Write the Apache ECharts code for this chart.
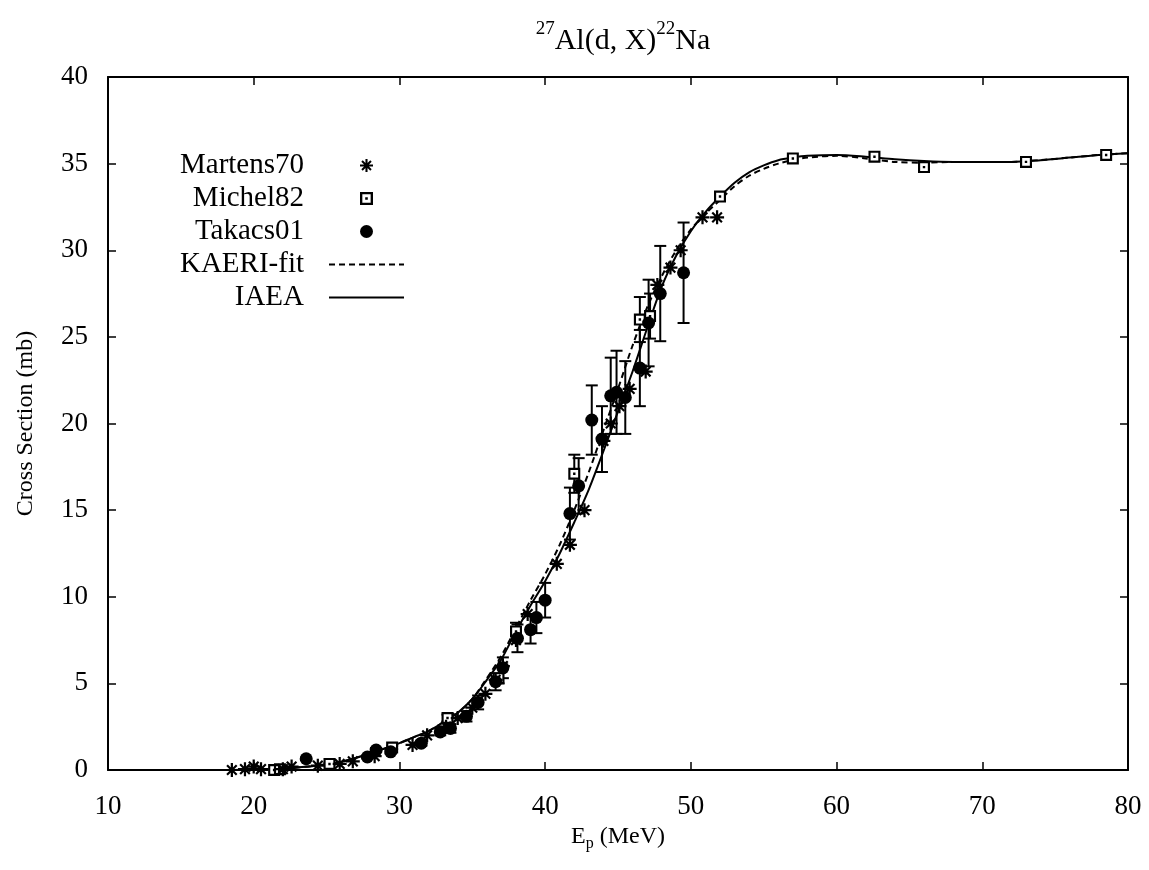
<!DOCTYPE html>
<html>
<head>
<meta charset="utf-8">
<script src="https://cdn.jsdelivr.net/npm/echarts@6/dist/echarts.min.js"></script>
<style>
  html, body { margin: 0; padding: 0; background: #fff; }
  #chart { width: 1149px; height: 870px; }
</style>
</head>
<body>
<div id="chart"></div>
<script>
// Martens70 measurements: [energy MeV, cross section mb]
const martens70 = [
  [18.5, 0.0], [19.4, 0.05], [20.0, 0.2], [20.5, 0.05], [22.0, 0.05], [22.6, 0.2],
  [24.4, 0.25], [25.9, 0.35], [26.8, 0.5], [28.3, 0.8], [30.9, 1.45], [31.9, 2.0],
  [33.2, 2.5], [34.0, 3.0], [35.0, 3.6], [35.9, 4.4], [36.6, 5.2], [37.1, 6.0],
  [38.0, 7.5], [38.8, 9.0], [40.8, 11.9], [41.7, 13.0], [42.7, 15.0], [44.0, 19.0],
  [44.5, 20.0], [45.1, 21.0], [45.8, 22.0], [46.9, 23.0], [47.7, 28.0], [48.6, 29.0],
  [49.3, 30.0], [50.8, 31.9], [51.8, 31.9]
];

// Michel82 measurements: [energy, cross section, uncertainty]
const michel82 = [
  [21.4, 0.0, 0.0], [21.8, 0.05, 0.0], [25.2, 0.35, 0.05], [29.5, 1.3, 0.1],
  [33.3, 3.0, 0.2], [36.8, 5.3, 0.3], [38.0, 8.0, 0.5], [42.0, 17.1, 1.1],
  [46.5, 26.0, 1.3], [47.2, 26.2, 1.3], [52.0, 33.1, 0.0], [57.0, 35.3, 0.0],
  [62.6, 35.4, 0.0], [66.0, 34.8, 0.0], [73.0, 35.1, 0.0], [78.5, 35.5, 0.0]
];

// Takacs01 measurements: [energy, cross section, uncertainty]
const takacs01 = [
  [23.6, 0.65, 0.07], [27.8, 0.75, 0.08], [28.4, 1.15, 0.12], [29.4, 1.05, 0.1],
  [31.5, 1.55, 0.15], [32.8, 2.2, 0.2], [33.5, 2.4, 0.25], [34.6, 3.1, 0.3],
  [35.4, 3.9, 0.4], [36.6, 5.1, 0.5], [37.1, 5.9, 0.6], [38.1, 7.6, 0.8],
  [39.0, 8.1, 0.8], [39.4, 8.8, 0.9], [40.0, 9.8, 1.0], [41.7, 14.8, 1.5],
  [42.3, 16.4, 1.6], [43.2, 20.2, 2.0], [43.9, 19.1, 1.9], [44.5, 21.6, 2.2],
  [44.9, 21.8, 2.4], [45.5, 21.5, 2.1], [46.5, 23.2, 2.2], [47.1, 25.8, 2.5],
  [47.9, 27.5, 2.75], [49.5, 28.7, 2.9]
];

// Evaluated curves on a common energy grid
const curveEnergy = [
  18, 20, 22, 23, 24, 25, 26, 27, 28, 29,
  30, 31, 32, 33, 34, 35, 36, 37, 38, 39,
  40, 41, 42, 43, 44, 45, 46, 47, 48, 49,
  50, 51, 52, 53, 54, 55, 56, 57, 58,
  60, 62, 64, 66, 68, 70, 72, 74, 76, 78, 80
];
const kaeriFit = [
  0, 0.02, 0.08, 0.15, 0.22, 0.33, 0.47, 0.7, 0.95, 1.25,
  1.55, 1.9, 2.25, 2.75, 3.3, 4.1, 5.3, 6.6, 8.2, 9.8,
  11.3, 13.0, 15.0, 17.2, 19.6, 22.0, 24.5, 26.7, 28.5, 30.0,
  31.2, 32.1, 32.9, 33.7, 34.3, 34.7, 35.0, 35.2, 35.35,
  35.45, 35.3, 35.1, 35.05, 35.1, 35.1, 35.1, 35.2, 35.35, 35.5, 35.6
];
const iaea = [
  0, 0.02, 0.08, 0.15, 0.22, 0.33, 0.47, 0.7, 0.95, 1.25,
  1.55, 1.9, 2.25, 2.75, 3.3, 4.1, 5.2, 6.4, 8.0, 9.5,
  10.9, 12.5, 14.3, 16.2, 18.4, 20.7, 23.0, 25.5, 27.9, 29.7,
  31.1, 32.2, 33.1, 33.9, 34.5, 34.9, 35.2, 35.35, 35.45,
  35.5, 35.4, 35.25, 35.15, 35.1, 35.1, 35.1, 35.2, 35.35, 35.5, 35.6
];

const xTicks = { min: 10, max: 80, step: 10 };
const yTicks = { min: 0, max: 40, step: 5 };

const FONT = 'Liberation Serif';
const INK = '#000';

// eight-armed asterisk marker
const ASTERISK = 'path://M0,4.2 L10,4.2 L10,5.8 L0,5.8 Z M4.2,0 L5.8,0 L5.8,10 L4.2,10 Z ' +
  'M1.0,2.1 L2.1,1.0 L9.0,7.9 L7.9,9.0 Z M7.9,1.0 L9.0,2.1 L2.1,9.0 L1.0,7.9 Z';
// open square with a centre dot (outer ring, hole, dot)
const DOT_SQUARE = 'path://M0,0 L10,0 L10,10 L0,10 Z M1.8,1.8 L1.8,8.2 L8.2,8.2 L8.2,1.8 Z ' +
  'M4,4 L6,4 L6,6 L4,6 Z';

function errorBars(rows) {
  return rows.filter(r => r[2] > 0).map(r => [r[0], r[1], r[1] - r[2], r[1] + r[2]]);
}

function renderErr(params, api) {
  const x = api.value(0);
  const top = api.coord([x, api.value(3)]);
  const bot = api.coord([x, api.value(2)]);
  const w = 6;
  const style = { stroke: INK, lineWidth: 2 };
  return {
    type: 'group',
    children: [
      { type: 'line', shape: { x1: top[0], y1: top[1], x2: bot[0], y2: bot[1] }, style },
      { type: 'line', shape: { x1: top[0] - w, y1: top[1], x2: top[0] + w, y2: top[1] }, style },
      { type: 'line', shape: { x1: bot[0] - w, y1: bot[1], x2: bot[0] + w, y2: bot[1] }, style }
    ]
  };
}

const axisCommon = {
  axisLine: { show: true, onZero: false, lineStyle: { color: INK, width: 2 } },
  axisTick: { show: true, inside: true, length: 8, lineStyle: { color: INK, width: 1.5 } },
  splitLine: { show: false }
};

const chart = echarts.init(document.getElementById('chart'), null, { renderer: 'canvas' });

chart.setOption({
  backgroundColor: '#fff',
  animation: false,
  title: {
    text: '{sup|27}{m|Al(d, X)}{sup|22}{m|Na}',
    left: 618,
    textAlign: 'center',
    top: 15,
    textStyle: {
      fontWeight: 'normal',
      rich: {
        m: { fontFamily: FONT, fontSize: 30, fontWeight: 'normal', color: INK, lineHeight: 36, verticalAlign: 'bottom' },
        sup: { fontFamily: FONT, fontSize: 19, fontWeight: 'normal', color: INK, lineHeight: 19, verticalAlign: 'top' }
      }
    }
  },
  legend: {
    orient: 'vertical',
    right: 739,
    top: 146,
    align: 'right',
    itemWidth: 75,
    itemHeight: 13,
    itemGap: 4,
    data: [
      { name: 'Martens70' },
      { name: 'Michel82' },
      { name: 'Takacs01' },
      { name: 'KAERI-fit', itemStyle: { opacity: 0 } },
      { name: 'IAEA', itemStyle: { opacity: 0 } }
    ],
    textStyle: {
      fontFamily: FONT, fontSize: 29, color: INK, lineHeight: 29,
      padding: [0, 20, 0, 0]
    }
  },
  grid: { left: 108, right: 21, top: 77, bottom: 100, containLabel: false },
  xAxis: [
    Object.assign({
      type: 'value', position: 'bottom',
      min: xTicks.min, max: xTicks.max, interval: xTicks.step,
      name: '{m|E}{sub|p}{m| (MeV)}',
      nameLocation: 'middle',
      nameGap: 44,
      nameTextStyle: {
        rich: {
          m: { fontFamily: FONT, fontSize: 24, color: INK, lineHeight: 30 },
          sub: { fontFamily: FONT, fontSize: 16, color: INK, lineHeight: 16, verticalAlign: 'bottom' }
        }
      },
      axisLabel: { fontFamily: FONT, fontSize: 27, color: INK, margin: 23 }
    }, axisCommon),
    Object.assign({
      type: 'value', position: 'top',
      min: xTicks.min, max: xTicks.max, interval: xTicks.step,
      axisLabel: { show: false }
    }, axisCommon)
  ],
  yAxis: [
    Object.assign({
      type: 'value', position: 'left',
      min: yTicks.min, max: yTicks.max, interval: yTicks.step,
      name: 'Cross Section (mb)',
      nameLocation: 'middle',
      nameGap: 70,
      nameTextStyle: { fontFamily: FONT, fontSize: 24, color: INK },
      axisLabel: { fontFamily: FONT, fontSize: 27, color: INK, margin: 20 }
    }, axisCommon),
    Object.assign({
      type: 'value', position: 'right',
      min: yTicks.min, max: yTicks.max, interval: yTicks.step,
      axisLabel: { show: false }
    }, axisCommon)
  ],
  series: [
    {
      name: 'KAERI-fit', type: 'line', symbol: 'none', smooth: 0.3, z: 2,
      data: curveEnergy.map((e, i) => [e, kaeriFit[i]]),
      lineStyle: { color: INK, width: 2, type: [6, 4] },
      itemStyle: { color: INK }
    },
    {
      name: 'IAEA', type: 'line', symbol: 'none', smooth: 0.3, z: 2,
      data: curveEnergy.map((e, i) => [e, iaea[i]]),
      lineStyle: { color: INK, width: 2 },
      itemStyle: { color: INK }
    },
    {
      name: 'Michel82 errors', type: 'custom', z: 3,
      renderItem: renderErr, data: errorBars(michel82),
      encode: { x: 0, y: 1 }
    },
    {
      name: 'Takacs01 errors', type: 'custom', z: 3,
      renderItem: renderErr, data: errorBars(takacs01),
      encode: { x: 0, y: 1 }
    },
    {
      name: 'Michel82 fill', type: 'scatter', symbol: 'rect', symbolSize: 11, z: 4,
      data: michel82.map(r => [r[0], r[1]]),
      itemStyle: { color: '#fff', opacity: 1 },
      silent: true
    },
    {
      name: 'Martens70', type: 'scatter', symbol: ASTERISK, symbolSize: 14, z: 5,
      data: martens70,
      itemStyle: { color: INK, opacity: 1 }
    },
    {
      name: 'Michel82', type: 'scatter', symbol: DOT_SQUARE, symbolSize: 12, z: 5,
      data: michel82.map(r => [r[0], r[1]]),
      itemStyle: { color: INK, opacity: 1 }
    },
    {
      name: 'Takacs01', type: 'scatter', symbol: 'circle', symbolSize: 13, z: 5,
      data: takacs01.map(r => [r[0], r[1]]),
      itemStyle: { color: INK, opacity: 1 }
    }
  ]
});
</script>
</body>
</html>
